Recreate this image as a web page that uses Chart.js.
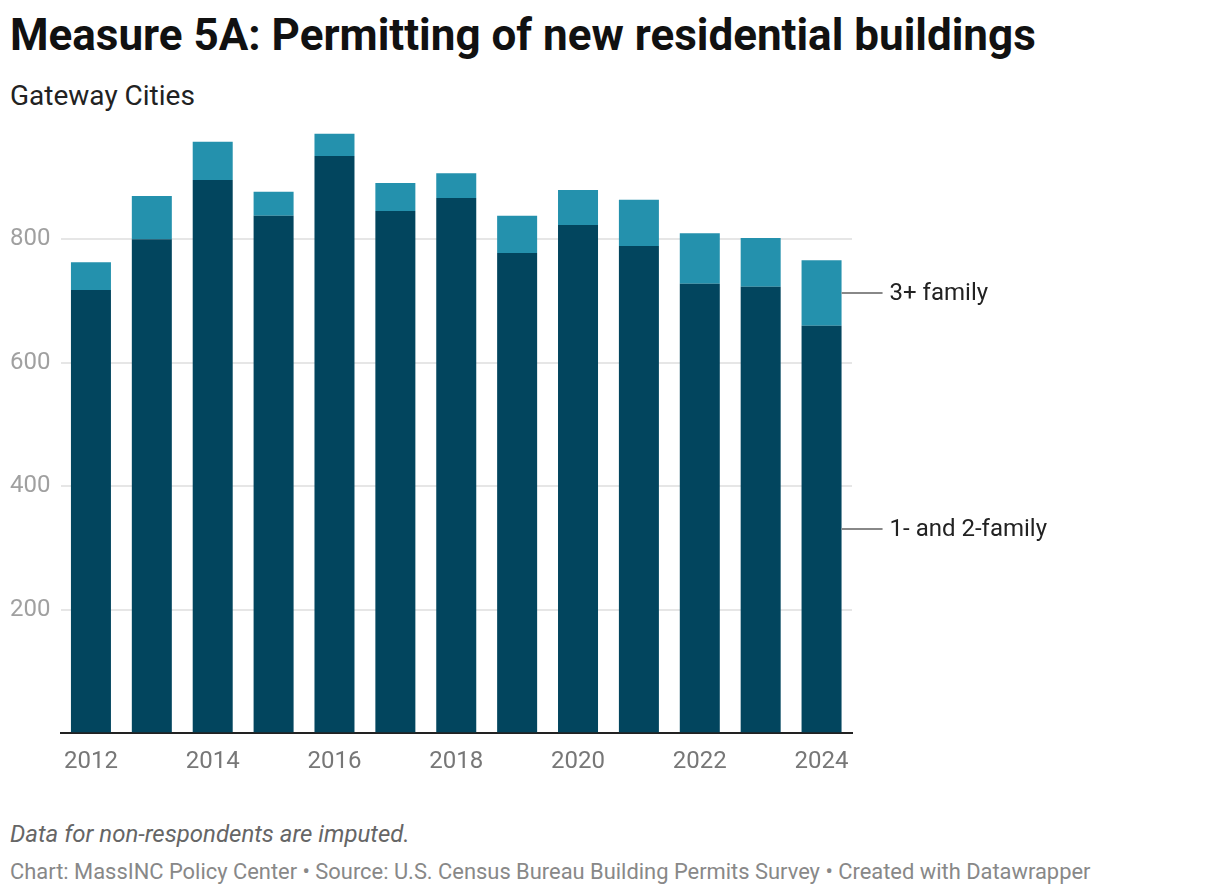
<!DOCTYPE html>
<html>
<head>
<meta charset="utf-8">
<script src="https://cdn.jsdelivr.net/npm/chart.js@4.4.1/dist/chart.umd.min.js"></script>
<style>
  html, body { margin: 0; padding: 0; background: #fff; }
  body { width: 1220px; height: 894px; position: relative; overflow: hidden; font-family: Roboto, "Noto Sans", sans-serif; }
  .t { position: absolute; left: 10px; white-space: nowrap; line-height: 1; margin: 0; }
  #title { top: 13px; font-size: 44px; font-weight: 700; color: #111; }
  #subtitle { top: 81.5px; font-size: 28px; color: #222; }
  #note { top: 822px; font-size: 24px; font-style: italic; color: #666; }
  #credit { top: 860.5px; font-size: 21.9px; color: #888; }
  #wrap { position: absolute; left: 0; top: 100px; width: 1220px; height: 700px; }
</style>
</head>
<body>
<h1 class="t" id="title">Measure 5A: Permitting of new residential buildings</h1>
<div class="t" id="subtitle">Gateway Cities</div>
<div id="wrap"><canvas id="c" width="1220" height="700" style="width:1220px;height:700px"></canvas></div>
<div class="t" id="note">Data for non-respondents are imputed.</div>
<div class="t" id="credit">Chart: MassINC Policy Center • Source: U.S. Census Bureau Building Permits Survey • Created with Datawrapper</div>
<script>
const years = ['2012','2013','2014','2015','2016','2017','2018','2019','2020','2021','2022','2023','2024'];
const oneTwoFamily = [718, 800, 896, 838, 935, 846, 867, 778, 823, 789, 728, 723, 660];
const threePlusFamily = [45, 70, 62, 39, 36, 45, 40, 60, 57, 75, 82, 79, 106];
const seriesNames = ['1- and 2-family', '3+ family'];
const seriesColors = ['#02455e', '#2491ad'];
const yTicks = [200, 400, 600, 800];

const endLabels = {
  id: 'endLabels',
  afterDatasetsDraw(chart) {
    const ctx = chart.ctx;
    ctx.save();
    chart.data.datasets.forEach((ds, i) => {
      const meta = chart.getDatasetMeta(i);
      const el = meta.data[meta.data.length - 1];
      if (!el) return;
      const xr = el.x + el.width / 2;
      const yc = (el.y + el.base) / 2;
      ctx.strokeStyle = '#888';
      ctx.lineWidth = 2;
      ctx.beginPath();
      ctx.moveTo(xr, yc);
      ctx.lineTo(xr + 41, yc);
      ctx.stroke();
      ctx.fillStyle = '#222';
      ctx.font = '24px Roboto';
      ctx.textBaseline = 'middle';
      ctx.textAlign = 'left';
      ctx.fillText(ds.label, xr + 48, yc + 1);
    });
    ctx.restore();
  }
};

new Chart(document.getElementById('c'), {
  type: 'bar',
  data: {
    labels: years,
    datasets: [
      { label: seriesNames[0], data: oneTwoFamily, backgroundColor: seriesColors[0], borderWidth: 0 },
      { label: seriesNames[1], data: threePlusFamily, backgroundColor: seriesColors[1], borderWidth: 0 }
    ]
  },
  options: {
    responsive: false,
    maintainAspectRatio: false,
    animation: false,
    devicePixelRatio: 1,
    categoryPercentage: 1,
    barPercentage: 0.657,
    layout: { padding: { top: 15.8, right: 368, left: 0, bottom: 0 } },
    plugins: { legend: { display: false }, tooltip: { enabled: false } },
    scales: {
      x: {
        stacked: true,
        offset: true,
        grid: { display: false, drawTicks: false },
        border: { display: true, color: '#222', width: 2 },
        ticks: {
          autoSkip: false, maxRotation: 0, minRotation: 0,
          color: '#777', font: { family: 'Roboto', size: 24 }, padding: 14,
          callback: function(v, i) { return i % 2 === 0 ? this.getLabelForValue(v) : ''; }
        },
        afterFit: s => { s.height = 66.7; s.paddingLeft = 0; s.paddingRight = 0; }
      },
      y: {
        stacked: true,
        min: 0, max: 1000,
        afterBuildTicks: s => { s.ticks = [0].concat(yTicks, [1000]).map(v => ({ value: v })); },
        grid: {
          drawTicks: false,
          lineWidth: 2,
          color: c => (yTicks.includes(c.tick.value) ? '#e6e6e6' : 'rgba(0,0,0,0)')
        },
        border: { display: false },
        ticks: {
          color: '#a0a0a0', font: { family: 'Roboto', size: 24 }, padding: 10,
          callback: v => (yTicks.includes(v) ? String(v) : '')
        },
        afterFit: s => { s.width = 60.5; s.paddingTop = 0; s.paddingBottom = 0; }
      }
    }
  },
  plugins: [endLabels]
});
</script>
</body>
</html>
